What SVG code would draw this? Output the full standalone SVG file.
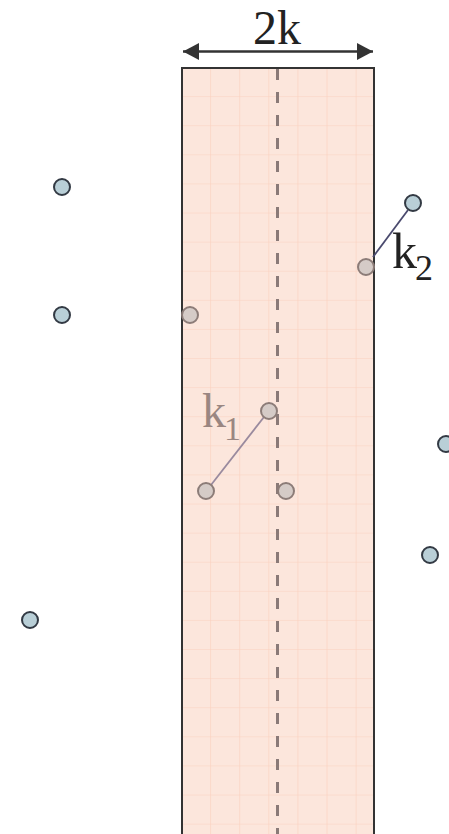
<svg xmlns="http://www.w3.org/2000/svg" width="449" height="834" viewBox="0 0 449 834">
<defs>
<marker id="ah" viewBox="0 0 16 17" refX="16" refY="8.5" markerWidth="16" markerHeight="17" markerUnits="userSpaceOnUse" orient="auto-start-reverse">
<path d="M0,0 L16,8.5 L0,17 Z" fill="#333"/>
</marker>
<pattern id="grid" x="182" y="68" width="29.1" height="29.1" patternUnits="userSpaceOnUse">
<rect width="29.1" height="29.1" fill="#fce6dc"/>
<path d="M29.1,0 V29.1 M0,29.1 H29.1" stroke="#fbd0be" stroke-width="1.2" fill="none"/>
</pattern>
</defs>
<style>
.n{fill:#b9cfd7;stroke:#333a44;stroke-width:2}
.f{fill:#d5cbc7;stroke:#8c7c78;stroke-width:2}
.t{font-family:"Liberation Serif","Times New Roman",serif;fill:#222}
.tf{font-family:"Liberation Serif","Times New Roman",serif;fill:#9a8681}
</style>
<rect width="449" height="834" fill="#fff"/>
<g id="strip">
<rect x="182" y="68" width="192" height="780" fill="url(#grid)" stroke="#333" stroke-width="2"/>
<line x1="277.5" y1="69" x2="277.5" y2="834" stroke="#8a7a78" stroke-width="3" stroke-dasharray="11 12"/>
</g>
<g id="connectors">
<line x1="183" y1="51.5" x2="373" y2="51.5" stroke="#333" stroke-width="2.5" marker-start="url(#ah)" marker-end="url(#ah)"/>
<line x1="373" y1="257" x2="408" y2="210" stroke="#4a4a6e" stroke-width="1.8"/>
<line x1="211" y1="485" x2="264" y2="417" stroke="#9a8a9e" stroke-width="1.8"/>
</g>
<g id="labels">
<text class="t" x="277" y="44" font-size="48" text-anchor="middle">2k</text>
<text class="t" x="392" y="268" font-size="50">k<tspan font-size="36" dy="12" dx="-2">2</tspan></text>
<text class="tf" x="202" y="427" font-size="48">k<tspan font-size="34" dy="13" dx="-2">1</tspan></text>
</g>
<g id="nodes">
<circle id="p1" class="n" cx="62" cy="187" r="8"/>
<circle id="p2" class="n" cx="62" cy="315" r="8"/>
<circle id="p3" class="n" cx="413" cy="203" r="8"/>
<circle id="p4" class="n" cx="446" cy="444" r="8"/>
<circle id="p5" class="n" cx="430" cy="555" r="8"/>
<circle id="p6" class="n" cx="30" cy="620" r="8"/>
<circle id="q1" class="f" cx="190" cy="315" r="8"/>
<circle id="q2" class="f" cx="366" cy="267" r="8"/>
<circle id="q3" class="f" cx="269" cy="411" r="8"/>
<circle id="q4" class="f" cx="206" cy="491" r="8"/>
<circle id="q5" class="f" cx="286" cy="491" r="8"/>
</g>
</svg>
